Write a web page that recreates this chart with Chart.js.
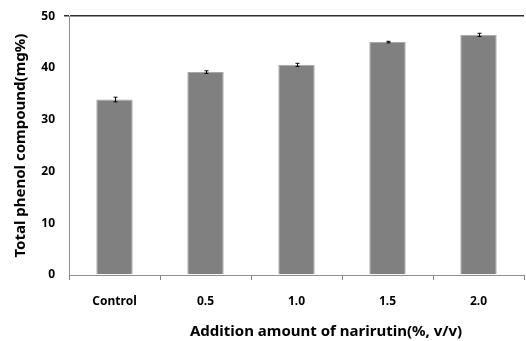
<!DOCTYPE html>
<html>
<head>
<meta charset="utf-8">
<script src="https://cdn.jsdelivr.net/npm/chart.js@4"></script>
<style>
  html, body { margin: 0; padding: 0; background: #fff; }
  #wrap { width: 526px; height: 341px; }
</style>
</head>
<body>
<div id="wrap"><canvas id="phenolChart"></canvas></div>
<script>
// Datos del grafico
const categories = ['Control', '0.5', '1.0', '1.5', '2.0'];
const phenolValues = [33.9, 39.2, 40.6, 45.0, 46.4];
const phenolErrors = [0.45, 0.25, 0.3, 0.15, 0.3];
const yTicks = [0, 10, 20, 30, 40, 50];
const xTitle = 'Addition amount of narirutin(%, v/v)';

// Plugin para las barras de error y el titulo del eje X
const errorBarsPlugin = {
    id: 'errorBars',
    afterDatasetsDraw(chart) {
        const ctx = chart.ctx;
        const meta = chart.getDatasetMeta(0);
        const yScale = chart.scales.y;
        ctx.save();
        ctx.strokeStyle = '#000';
        ctx.lineWidth = 1;
        meta.data.forEach((bar, i) => {
            const x = Math.round(bar.x) + 0.5;
            const top = yScale.getPixelForValue(phenolValues[i] + phenolErrors[i]);
            const bottom = yScale.getPixelForValue(phenolValues[i] - phenolErrors[i]);
            ctx.beginPath();
            ctx.moveTo(x, top);
            ctx.lineTo(x, bottom);
            ctx.moveTo(x - 2, top);
            ctx.lineTo(x + 2, top);
            ctx.moveTo(x - 2, bottom);
            ctx.lineTo(x + 2, bottom);
            ctx.stroke();
        });
        ctx.restore();
    },
    afterDraw(chart) {
        // titulo del eje X, algo desplazado a la derecha como en el original
        const ctx = chart.ctx;
        const area = chart.chartArea;
        ctx.save();
        ctx.fillStyle = '#000';
        ctx.font = 'bold 15px "Noto Sans"';
        ctx.textAlign = 'center';
        ctx.textBaseline = 'middle';
        ctx.fillText(xTitle, area.left + (area.right - area.left) * 0.565, chart.height - 9);
        ctx.restore();
    }
};

const ctx = document.getElementById('phenolChart');
new Chart(ctx, {
    type: 'bar',
    data: {
        labels: categories,
        datasets: [{
            data: phenolValues,
            backgroundColor: '#808080',
            borderColor: '#a8a8a8',
            borderWidth: 1,
            barPercentage: 0.4,
            categoryPercentage: 1.0
        }]
    },
    options: {
        responsive: true,
        maintainAspectRatio: false,
        animation: false,
        layout: { padding: { top: 14, right: 2, left: 0, bottom: 0 } },
        plugins: {
            legend: { display: false },
            tooltip: { enabled: false }
        },
        scales: {
            x: {
                offset: true,
                afterFit: (scale) => { scale.height = 66; },
                grid: {
                    offset: true,
                    drawOnChartArea: false,
                    drawTicks: true,
                    tickLength: 5,
                    color: '#808080'
                },
                border: { color: '#909090', width: 1 },
                ticks: {
                    color: '#000',
                    padding: 14,
                    font: { family: 'Noto Sans', size: 12, weight: 'bold' }
                }
            },
            y: {
                min: 0,
                max: 50,
                afterFit: (scale) => { scale.width = 69; },
                afterBuildTicks: (scale) => {
                    scale.ticks = yTicks.map(v => ({ value: v }));
                },
                grid: {
                    drawTicks: true,
                    tickLength: 5,
                    color: (c) => c.tick && c.tick.value === 50 ? '#303030' : 'rgba(0,0,0,0)',
                    lineWidth: 1.5
                },
                border: { color: '#909090', width: 1 },
                ticks: {
                    color: '#000',
                    padding: 9,
                    font: { family: 'Noto Sans', size: 12, weight: 'bold' }
                },
                title: {
                    display: true,
                    text: 'Total phenol compound(mg%)',
                    color: '#000',
                    padding: { top: 12, bottom: 0 },
                    font: { family: 'Noto Sans', size: 15, weight: 'bold' }
                }
            }
        }
    },
    plugins: [errorBarsPlugin]
});
</script>
</body>
</html>
